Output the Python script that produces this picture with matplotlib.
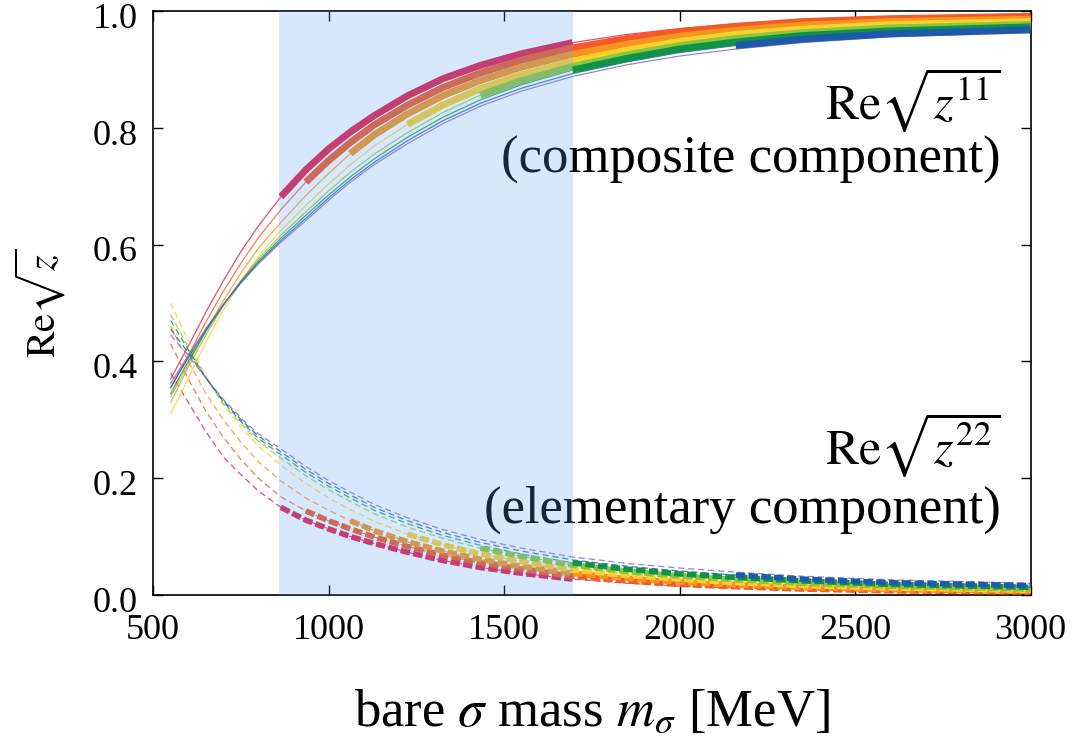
import numpy as np
import matplotlib.pyplot as plt
from matplotlib.transforms import ScaledTranslation

plt.rcParams["font.family"] = ["Liberation Serif", "DejaVu Serif"]
plt.rcParams["mathtext.fontset"] = "stix"

# bare sigma mass grid [MeV]
mass = [550, 575, 600, 650, 700, 750, 800, 864, 935, 1000, 1062, 1130, 1225,
        1325, 1432, 1550, 1695, 1850, 2000, 2160, 2350, 2600, 3000]

colors = ["#e51f4a", "#f15a29", "#f7941d", "#fbd12e", "#8cc63f",
          "#109347", "#1e5aa8", "#7b68c4"]

# mass range where each curve is drawn thick (None = thin everywhere)
thick_range = [(864, 1695), (935, 3000), (1062, 3000), (1225, 3000),
               (1432, 3000), (1695, 3000), (2160, 3000), None]

# Re sqrt(z11) -- composite component
z11_red = [.370, .398, .426, .484, .538, .588, .632, .682, .728, .764, .793, .821, .855,
           .884, .907, .927, .946, .960, .970, .978, .985, .990, .995]
z11_orred = [.355, .382, .410, .467, .520, .568, .612, .660, .707, .744, .775, .805, .839,
             .869, .894, .916, .937, .953, .965, .974, .982, .987, .991]
z11_orange = [.340, .367, .395, .452, .504, .551, .594, .638, .684, .722, .756, .788, .824,
              .855, .881, .904, .926, .943, .957, .967, .976, .982, .986]
z11_yellow = [.310, .340, .371, .433, .488, .537, .580, .624, .667, .704, .737, .769, .806,
              .839, .867, .891, .914, .933, .948, .960, .969, .977, .982]
z11_lgreen = [.330, .360, .390, .445, .495, .538, .576, .616, .656, .692, .724, .755, .792,
              .826, .856, .881, .905, .925, .941, .953, .963, .971, .977]
z11_green = [.345, .373, .400, .451, .497, .537, .572, .611, .650, .685, .716, .747, .784,
             .818, .848, .874, .899, .919, .935, .947, .958, .966, .973]
z11_blue = [.355, .381, .406, .454, .497, .535, .569, .607, .645, .680, .711, .741, .778,
            .812, .842, .868, .893, .913, .929, .941, .952, .961, .968]
z11_purple = [.362, .386, .410, .456, .497, .534, .567, .604, .641, .676, .707, .737, .773,
              .807, .837, .863, .888, .908, .923, .935, .946, .956, .963]

# Re sqrt(z22) -- elementary component
z22_red = [.380, .355, .330, .280, .236, .206, .178, .150, .128, .113, .100, .088, .073,
           .059, .047, .037, .027, .020, .015, .012, .009, .006, .004]
z22_orred = [.430, .400, .370, .315, .270, .232, .200, .168, .144, .127, .113, .099, .083,
             .068, .055, .044, .032, .024, .018, .014, .010, .007, .005]
z22_orange = [.460, .430, .400, .345, .300, .262, .228, .195, .166, .145, .127, .110, .091,
              .075, .061, .049, .037, .028, .022, .017, .013, .009, .006]
z22_yellow = [.500, .467, .435, .375, .325, .287, .255, .222, .191, .166, .146, .126, .104,
              .086, .070, .057, .043, .034, .027, .021, .016, .012, .008]
z22_lgreen = [.480, .452, .425, .372, .328, .293, .263, .234, .204, .180, .160, .139, .116,
              .097, .080, .066, .051, .040, .032, .026, .020, .015, .010]
z22_green = [.470, .445, .420, .372, .331, .297, .268, .240, .210, .186, .166, .145, .122,
             .102, .085, .070, .055, .044, .036, .030, .024, .018, .013]
z22_blue = [.455, .435, .415, .372, .333, .300, .272, .245, .215, .191, .171, .150, .127,
            .107, .090, .075, .060, .049, .041, .034, .027, .021, .016]
z22_purple = [.445, .427, .410, .372, .335, .303, .276, .250, .220, .196, .176, .155, .132,
              .112, .095, .080, .065, .054, .046, .039, .032, .026, .020]

z11_all = [z11_red, z11_orred, z11_orange, z11_yellow, z11_lgreen, z11_green, z11_blue, z11_purple]
z22_all = [z22_red, z22_orred, z22_orange, z22_yellow, z22_lgreen, z22_green, z22_blue, z22_purple]

# shaded band
band = (860, 1695)

fig = plt.figure(figsize=(10.86, 7.39), dpi=100)
ax = fig.add_axes([0.141, 0.195, 0.808, 0.79])

m = np.array(mass)
for i, c in enumerate(colors):
    ax.plot(m, z11_all[i], color=c, lw=0.9, alpha=0.8, zorder=2)
    ax.plot(m, z22_all[i], color=c, lw=0.9, alpha=0.8, zorder=2, dashes=(5, 3))
for i, c in enumerate(colors):
    if thick_range[i] is None:
        continue
    lo_m, hi_m = thick_range[i]
    sel = (m >= lo_m) & (m <= hi_m)
    up = np.array(z11_all[i])[sel]
    lo = np.array(z22_all[i])[sel]
    ax.plot(m[sel], up, color=c, lw=5, solid_capstyle="butt",
            solid_joinstyle="round", zorder=3)
    ax.plot(m[sel], lo, color=c, lw=4, dashes=(1.7, 0.6), zorder=3)

txt_x = 2915
ax.text(txt_x, 0.848, r"$\mathrm{Re}\sqrt{z^{11}}$", fontsize=36, ha="right", va="center", zorder=1)
ax.text(txt_x, 0.745, "(composite component)", fontsize=38, ha="right", va="center", zorder=1)
ax.text(txt_x, 0.257, r"$\mathrm{Re}\sqrt{z^{22}}$", fontsize=36, ha="right", va="center", zorder=1)
ax.text(txt_x, 0.146, "(elementary component)", fontsize=38, ha="right", va="center", zorder=1)

ax.axvspan(band[0], band[1], color="#5ea2f6", alpha=0.24, lw=0, zorder=6)

ax.set_xlim(500, 3000)
ax.set_ylim(0, 1)
ax.set_xticks([500, 1000, 1500, 2000, 2500, 3000])
ax.set_yticks([0, 0.2, 0.4, 0.6, 0.8, 1.0])
ax.yaxis.set_major_formatter(plt.FuncFormatter(lambda v, _: f"{v:.1f}"))
ax.tick_params(direction="in", top=True, right=True, length=7, width=1,
               labelsize=26)
ax.tick_params(axis="x", pad=14)
ax.tick_params(axis="y", pad=11)
shift = ScaledTranslation(0, -3 / 72, fig.dpi_scale_trans)
for lab in ax.get_yticklabels():
    lab.set_transform(lab.get_transform() + shift)
for s in ax.spines.values():
    s.set_linewidth(1.2)
ax.set_xlabel(r"bare $\sigma$ mass $m_\sigma$ [MeV]", fontsize=38, labelpad=30)
ax.set_ylabel(r"$\mathrm{Re}\sqrt{z}$", fontsize=29, labelpad=18)

plt.savefig("out.png", dpi=100, facecolor="white")
plt.close()
